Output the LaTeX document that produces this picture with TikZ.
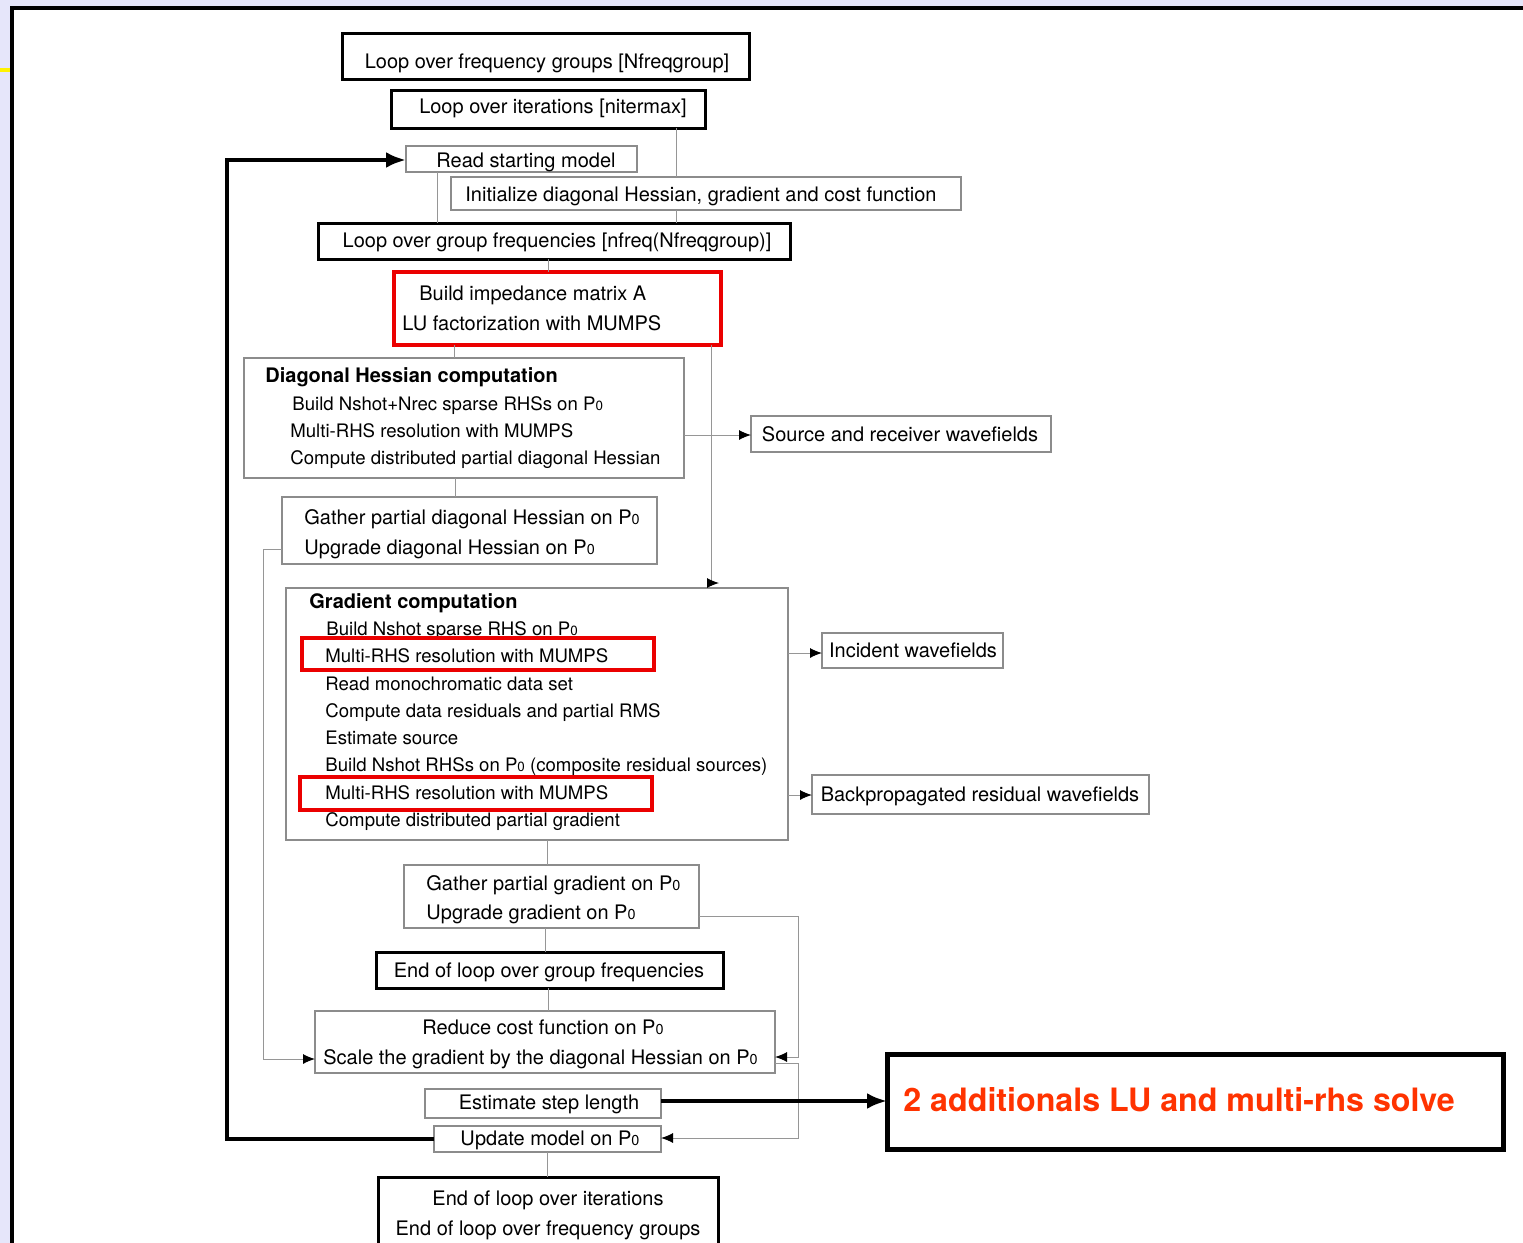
\documentclass[tikz,border=0pt]{standalone}
\usepackage{fontspec}
\setmainfont{TeX Gyre Heros}
\usetikzlibrary{arrows.meta,fit,calc}
\definecolor{lav}{RGB}{230,230,250}
\definecolor{boxgray}{RGB}{140,140,140}
\definecolor{linegray}{RGB}{150,150,150}
\definecolor{redbox}{RGB}{235,0,0}
\definecolor{orangetxt}{RGB}{255,51,0}
\newcommand{\Pz}{P\scalebox{0.72}{0}}
\tikzset{
 basebox/.style={inner sep=0pt, outer sep=0pt},
 thickbox/.style={basebox, draw=black, line width=1.5pt},
 thinbox/.style={basebox, draw=boxgray, line width=0.6pt},
 redframe/.style={basebox, draw=redbox, line width=2pt},
 bigbox/.style={basebox, draw=black, line width=2.5pt},
 txt/.style={font=\fontsize{10}{12}\selectfont, inner sep=0pt, anchor=base west},
 ctxt/.style={font=\fontsize{10}{12}\selectfont, inner sep=0pt, anchor=base},
 smalltxt/.style={font=\fontsize{9.3}{11}\selectfont, inner sep=0pt, anchor=base west},
 boldtxt/.style={font=\fontsize{10}{12}\selectfont\bfseries, inner sep=0pt, anchor=base west},
 conn/.style={draw=linegray, line width=0.5pt},
 arr/.style={conn, -{Latex[length=6pt,width=5pt,color=black]}},
 thickarr/.style={draw=black, line width=2pt, -{Latex[length=10pt,width=8pt]}},
}
\begin{document}
\begin{tikzpicture}[x=0.5pt,y=-0.5pt]
\useasboundingbox (0,0) rectangle (1523,1243);
\clip (0,0) rectangle (1523,1243);
% background
\fill[lav] (0,0) rectangle (1523,1243);
\filldraw[fill=white, draw=black, line width=2pt] (12,8) rectangle (1560,1280);
\draw[yellow, line width=2pt] (0,70) -- (10,70);

% boxes
\node[thickbox, fit={(342,33)(749,79)}] (b1) {};
\node[ctxt] (t1) at (547,68) {Loop over frequency groups [Nfreqgroup]};
\node[thickbox, fit={(391,90)(705,128)}] (b2) {};
\node[ctxt] (t2) at (553,113) {Loop over iterations [nitermax]};
\node[thinbox, fit={(406,146)(637,172)}] (b3) {};
\node[ctxt] (t3) at (526,167) {Read starting model};
\node[thinbox, fit={(451,177)(961,210)}] (b4) {};
\node[ctxt] (t4) at (701,201) {Initialize diagonal Hessian, gradient and cost function};
\node[thickbox, fit={(318,223)(790,259)}] (b5) {};
\node[ctxt] (t5) at (557,247) {Loop over group frequencies [nfreq(Nfreqgroup)]};

\node[redframe, fit={(394,272)(721,345)}] (b6) {};
\node[txt] (t6a) at (419,300) {Build impedance matrix A};
\node[txt] (t6b) at (402,330) {LU factorization with MUMPS};

\node[thinbox, fit={(244,358)(684,478)}] (b7) {};
\node[boldtxt] (t7a) at (265,382) {Diagonal Hessian computation};
\node[smalltxt] (t7b) at (292,410) {Build Nshot+Nrec sparse RHSs on \Pz};
\node[smalltxt] (t7c) at (290,437) {Multi-RHS resolution with MUMPS};
\node[smalltxt] (t7d) at (290,464) {Compute distributed partial diagonal Hessian};

\node[thinbox, fit={(751,416)(1051,452)}] (b8) {};
\node[ctxt] (t8) at (900,441) {Source and receiver wavefields};

\node[thinbox, fit={(282,497)(657,564)}] (b9) {};
\node[txt] (t9a) at (304,524) {Gather partial diagonal Hessian on \Pz};
\node[txt] (t9b) at (304,554) {Upgrade diagonal Hessian on \Pz};

\node[thinbox, fit={(286,588)(788,840)}] (b10) {};
\node[boldtxt] (t10a) at (309,608) {Gradient computation};
\node[smalltxt] (t10b) at (326,635) {Build Nshot sparse RHS on \Pz};
\node[smalltxt] (t10c) at (325,662) {Multi-RHS resolution with MUMPS};
\node[smalltxt] (t10d) at (325,690) {Read monochromatic data set};
\node[smalltxt] (t10e) at (325,717) {Compute data residuals and partial RMS};
\node[smalltxt] (t10f) at (325,744) {Estimate source};
\node[smalltxt] (t10g) at (325,771) {Build Nshot RHSs on \Pz{} (composite residual sources)};
\node[smalltxt] (t10h) at (325,799) {Multi-RHS resolution with MUMPS};
\node[smalltxt] (t10i) at (325,826) {Compute distributed partial gradient};
\node[redframe, fit={(302,638)(654,670)}] (r1) {};
\node[redframe, fit={(300,777)(652,810)}] (r2) {};

\node[thinbox, fit={(822,633)(1003,668)}] (b11) {};
\node[ctxt] (t11) at (913,657) {Incident wavefields};
\node[thinbox, fit={(812,775)(1149,814)}] (b12) {};
\node[ctxt] (t12) at (980,801) {Backpropagated residual wavefields};

\node[thinbox, fit={(404,865)(699,928)}] (b13) {};
\node[txt] (t13a) at (426,890) {Gather partial gradient on \Pz};
\node[txt] (t13b) at (426,919) {Upgrade gradient on \Pz};

\node[thickbox, fit={(376,952)(723,988)}] (b14) {};
\node[ctxt] (t14) at (549,977) {End of loop over group frequencies};

\node[thinbox, fit={(315,1011)(775,1073)}] (b15) {};
\node[ctxt] (t15a) at (543,1034) {Reduce cost function on \Pz};
\node[txt] (t15b) at (323,1064) {Scale the gradient by the diagonal Hessian on \Pz};

\node[thinbox, fit={(425,1089)(661,1118)}] (b16) {};
\node[ctxt] (t16) at (549,1109) {Estimate step length};
\node[thinbox, fit={(434,1126)(661,1152)}] (b17) {};
\node[ctxt] (t17) at (550,1145) {Update model on \Pz};

\node[thickbox, fit={(378,1177)(718,1265)}] (b18) {};
\node[ctxt] (t18a) at (548,1205) {End of loop over iterations};
\node[ctxt] (t18b) at (548,1235) {End of loop over frequency groups};

\node[bigbox, fit={(887,1054)(1503,1149)}] (b19) {};
\node[anchor=base west, inner sep=0pt, font=\fontsize{16.1}{19}\selectfont\bfseries, text=orangetxt] (t19) at (903,1111) {2 additionals LU and multi-rhs solve};

% coordinates for connector columns
\coordinate (x676) at (676,0);
\coordinate (x437) at (437,0);
\coordinate (x548) at (548,0);
\coordinate (x454) at (454,0);
\coordinate (x711) at (711,0);
\coordinate (x455) at (455,0);
\coordinate (x547) at (547,0);
\coordinate (x545) at (545,0);
\coordinate (xl) at (263,0);
\coordinate (xr) at (798,0);
\coordinate (xtl) at (227,0);
\coordinate (y435) at (0,435);
\coordinate (y549) at (0,549);
\coordinate (y653) at (0,653);
\coordinate (y795) at (0,795);
\coordinate (y916) at (0,916);
\coordinate (y1057) at (0,1057);
\coordinate (y1059) at (0,1059);
\coordinate (y1063) at (0,1063);
\coordinate (y1138) at (0,1138);
\coordinate (y1101) at (0,1101);
\coordinate (y160) at (0,160);
\coordinate (gtip) at (719,583);

% thin connectors
\draw[conn] (b2.south -| x676) -- (b4.north -| x676);
\draw[conn] (b4.south -| x676) -- (b5.north -| x676);
\draw[conn] (b3.south -| x437) -- (b5.north -| x437);
\draw[conn] (b5.south -| x548) -- (b6.north -| x548);
\draw[conn] (b6.south -| x454) -- (b7.north -| x454);
\draw[arr] (b6.south -| x711) -- (x711 |- gtip) -- (gtip);
\draw[arr] (b7.east |- y435) -- (b8.west |- y435);
\draw[conn] (b7.south -| x455) -- (b9.north -| x455);
\draw[arr] (b9.west |- y549) -- (xl |- y549) -- (xl |- y1059) -- (b15.west |- y1059);
\draw[arr] (b10.east |- y653) -- (b11.west |- y653);
\draw[arr] (b10.east |- y795) -- (b12.west |- y795);
\draw[conn] (b10.south -| x547) -- (b13.north -| x547);
\draw[conn] (b13.south -| x545) -- (b14.north -| x545);
\draw[arr] (b13.east |- y916) -- (xr |- y916) -- (xr |- y1057) -- (b15.east |- y1057);
\draw[conn] (b14.south -| x548) -- (b15.north -| x548);
\draw[arr] (b15.east |- y1063) -- (xr |- y1063) -- (xr |- y1138) -- (b17.east |- y1138);
\draw[conn] (b17.south -| x547) -- (b18.north -| x547);

% thick connectors
\draw[thickarr] (b16.east |- y1101) -- (b19.west |- y1101);
\draw[thickarr] (b17.west) -- (xtl |- b17.west) -- (xtl |- y160) -- (b3.west |- y160);
\end{tikzpicture}
\end{document}
